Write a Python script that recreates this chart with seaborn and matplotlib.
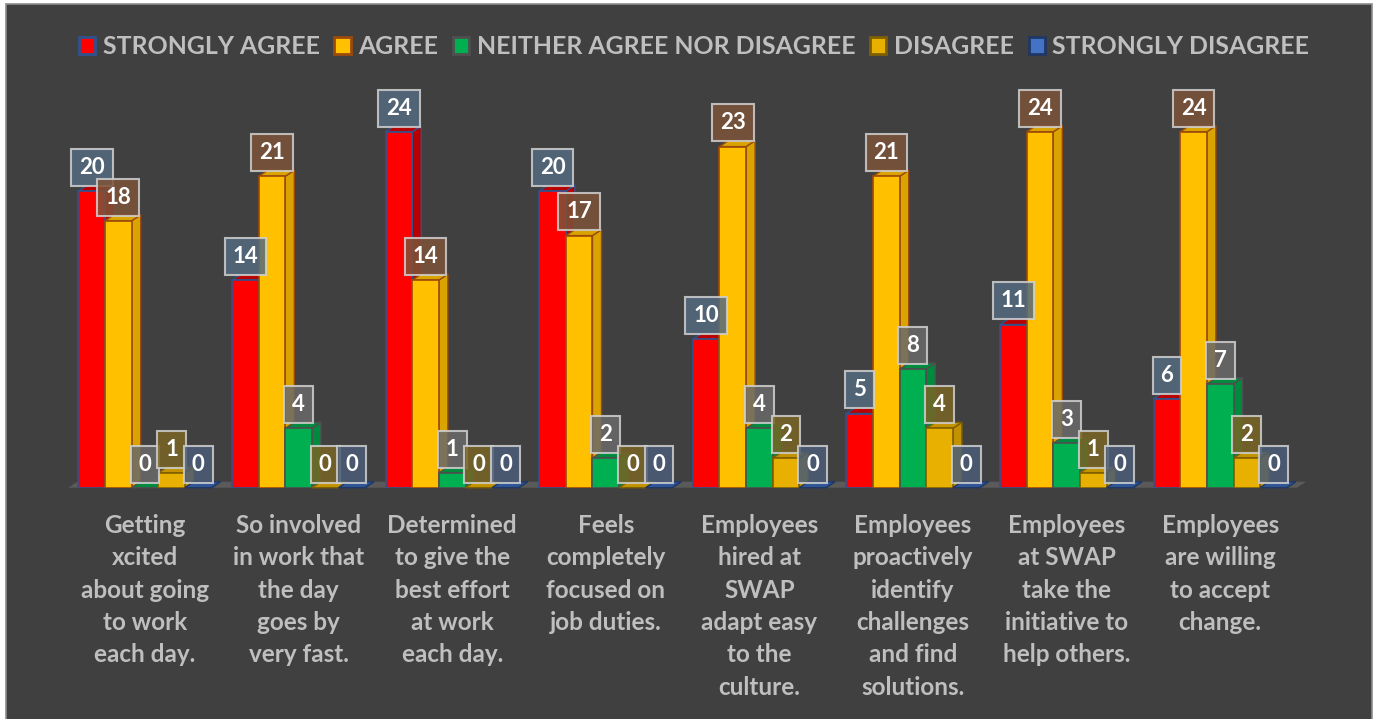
import matplotlib
matplotlib.use("Agg")
import matplotlib.pyplot as plt
from matplotlib.patches import Polygon, Patch, Rectangle
import seaborn as sns
import pandas as pd

# ---- data -------------------------------------------------------------
categories = [
    "Getting\nxcited\nabout going\nto work\neach day.",
    "So involved\nin work that\nthe day\ngoes by\nvery fast.",
    "Determined\nto give the\nbest effort\nat work\neach day.",
    "Feels\ncompletely\nfocused on\njob duties.",
    "Employees\nhired at\nSWAP\nadapt easy\nto the\nculture.",
    "Employees\nproactively\nidentify\nchallenges\nand find\nsolutions.",
    "Employees\nat SWAP\ntake the\ninitiative to\nhelp others.",
    "Employees\nare willing\nto accept\nchange.",
]
responses = ["STRONGLY AGREE", "AGREE", "NEITHER AGREE NOR DISAGREE",
             "DISAGREE", "STRONGLY DISAGREE"]
strongly_agree = [20, 14, 24, 20, 10, 5, 11, 6]
agree = [18, 21, 14, 17, 23, 21, 24, 24]
neither = [0, 4, 1, 2, 4, 8, 3, 7]
disagree = [1, 0, 0, 0, 2, 4, 1, 2]
strongly_disagree = [0, 0, 0, 0, 0, 0, 0, 0]
series = [strongly_agree, agree, neither, disagree, strongly_disagree]

# ---- styling ----------------------------------------------------------
face = ["#FF0000", "#FFC000", "#00B050", "#E8B000", "#4472C4"]
shade = ["#B80000", "#D9A300", "#008A3E", "#C29200", "#2F5597"]
edge = ["#2F528F", "#9C4A0C", "#4F4F4F", "#7F6000", "#1F3864"]
label_fc = ["#556B7F", "#7D5338", "#6A6A6A", "#796525", "#4B5D78"]
BG = "#404040"
TXT = "#BFBFBF"
FONT = "Lato"

df = pd.DataFrame({
    "category": [c for _ in responses for c in categories],
    "response": [r for r in responses for _ in categories],
    "count": [v for s in series for v in s],
})

W, H, DPI = 13.8, 7.19, 100
fig = plt.figure(figsize=(W, H), dpi=DPI)
fig.patch.set_facecolor("white")
fig.add_artist(Rectangle((6 / 1380, -0.02), 1366 / 1380, 1.02 - 4 / 719,
                         transform=fig.transFigure, facecolor=BG,
                         edgecolor="#8C8C8C", linewidth=1.2, zorder=-1))

# plot area geometry (figure pixels)
px_left, px_unit_x = 68.2, 153.6
px_base, px_unit_y = 487.7, 14.83
ymax = 27
ax = fig.add_axes([px_left / 1380, (719 - px_base) / 719,
                   8 * px_unit_x / 1380, ymax * px_unit_y / 719])
ax.set_facecolor("none")

sns.barplot(data=df, x="category", y="count", hue="response",
            hue_order=responses, order=categories, palette=face,
            width=0.866, saturation=1, legend=False, ax=ax)
ax.set_xlim(-0.5, 7.5)
ax.set_ylim(0, ymax)

# depth of the extruded bars, converted from pixels to data units
dx = 9 / px_unit_x
dy = 6 / px_unit_y

# floor slab
x0, x1 = -0.5, 7.5
ax.add_patch(Polygon([(x0, 0), (x1, 0), (x1 + dx, dy), (x0 + dx, dy)],
                     closed=True, facecolor="#5A5A5A", edgecolor="none",
                     zorder=1, clip_on=False))

for k, cont in enumerate(ax.containers):
    for bar, val in zip(cont.patches, series[k]):
        xl = bar.get_x()
        w = bar.get_width()
        h = bar.get_height()
        xr = xl + w
        z = 2 + 2 * k
        bar.set_edgecolor(edge[k])
        bar.set_linewidth(1.2)
        bar.set_zorder(z + 1)
        side = Polygon([(xr, 0), (xr + dx, dy), (xr + dx, h + dy), (xr, h)],
                       closed=True, facecolor=shade[k], edgecolor=edge[k],
                       linewidth=1.0, zorder=z + 0.5, clip_on=False)
        top = Polygon([(xl, h), (xr, h), (xr + dx, h + dy), (xl + dx, h + dy)],
                      closed=True, facecolor=shade[k], edgecolor=edge[k],
                      linewidth=1.0, zorder=z + 0.6, clip_on=False)
        ax.add_patch(side)
        ax.add_patch(top)
        ax.annotate(str(val), xy=(xl + w / 2, h), xytext=(0, 9.5),
                    textcoords="offset points", ha="center", va="bottom",
                    fontsize=16, fontweight="bold", family=FONT,
                    color="white", zorder=20 + k, annotation_clip=False,
                    bbox=dict(boxstyle="square,pad=0.36", facecolor=label_fc[k],
                              alpha=0.85, edgecolor="#D0D0D0", linewidth=1.5))

for s in ax.spines.values():
    s.set_visible(False)
ax.set_yticks([])
ax.set_xlabel("")
ax.set_ylabel("")
ax.tick_params(axis="x", length=0, pad=19)
ax.set_xticks(range(len(categories)))
ax.set_xticklabels(categories, color=TXT, fontsize=17.5, fontweight="bold",
                   family=FONT, linespacing=1.49, va="top")

handles = [Patch(facecolor=face[k], edgecolor=edge[k], linewidth=2)
           for k in range(len(responses))]
fig.legend(handles, responses, loc="upper center", bbox_to_anchor=(0.503, 0.982),
           ncol=5, frameon=False, handlelength=0.65, handleheight=0.7,
           handletextpad=0.3, columnspacing=0.6, labelcolor=TXT,
           prop=dict(family=FONT, weight="bold", size=17.9))

fig.savefig("out.png", dpi=DPI, facecolor=fig.get_facecolor())
